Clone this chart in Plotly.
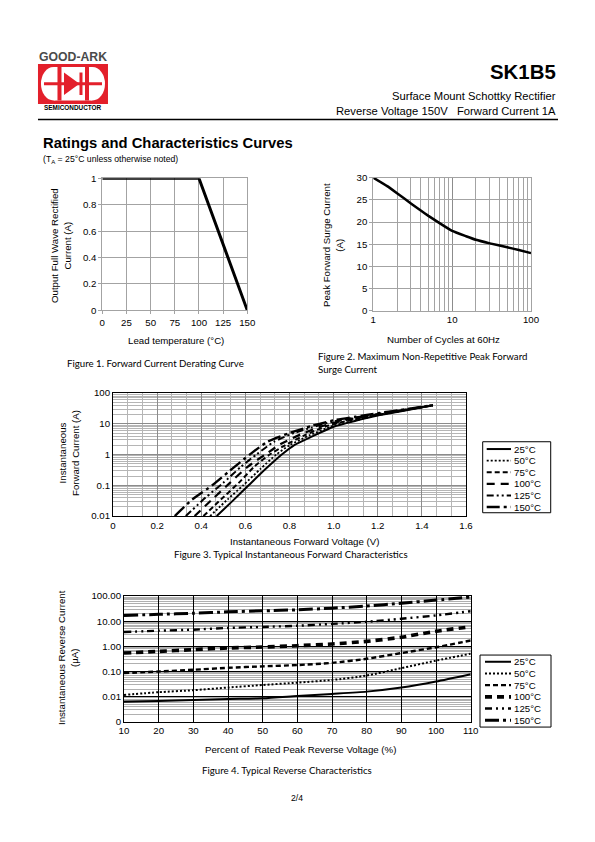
import plotly.graph_objects as go

W, H = 595, 842
BODY = 8  # default page margin of the browser
FW, FH = W - 2 * BODY, H - 2 * BODY
# measured mapping page-px -> photographed px (view = A + S * page)
AX, SX = 5.2, 0.9775
AY, SY = 6.1, 0.9866
FS = 1.02  # font compensation


def fx(x):
    return ((x - AX) / SX - BODY) / FW


def fy(y):
    return 1 - ((y - AY) / SY - BODY) / FH


# ---------------- data ----------------
fig1_temp = [0, 100, 150]
fig1_current = [1, 1, 0]

fig2_cycles = [1, 1.5, 2, 3, 4, 5, 7, 10, 15, 20, 30, 50, 70, 100]
fig2_surge = [30, 28.1, 26.5, 24.2, 22.6, 21.4, 19.7, 18.0, 16.8, 16.0, 15.2, 14.3, 13.7, 13.0]

fig3_v25 = [0.47, 0.54, 0.615, 0.69, 0.765, 0.82, 0.9, 1.0, 1.1, 1.2, 1.3, 1.45]
fig3_i25 = [0.01, 0.03, 0.1, 0.33, 1, 2, 3.8, 8, 12.5, 18.5, 25, 40]
fig3_v50 = [0.44, 0.52, 0.59, 0.67, 0.74, 0.8, 0.89, 1.0, 1.1, 1.2, 1.45]
fig3_i50 = [0.01, 0.035, 0.1, 0.35, 1, 2, 4.2, 8.7, 13, 19, 40]
fig3_v75 = [0.41, 0.49, 0.57, 0.64, 0.71, 0.78, 0.87, 0.97, 1.05, 1.2, 1.45]
fig3_i75 = [0.01, 0.035, 0.12, 0.4, 1, 2, 4.3, 8.5, 12, 19.5, 40]
fig3_v100 = [0.37, 0.45, 0.53, 0.61, 0.69, 0.76, 0.85, 0.95, 1.05, 1.2, 1.45]
fig3_i100 = [0.01, 0.035, 0.12, 0.4, 1, 2.2, 4.5, 8.5, 13, 20, 40]
fig3_v125 = [0.33, 0.42, 0.5, 0.58, 0.65, 0.73, 0.82, 0.9, 1.0, 1.2, 1.45]
fig3_i125 = [0.01, 0.04, 0.12, 0.4, 1, 2.6, 5, 7.5, 12, 21, 40]
fig3_v150 = [0.28, 0.36, 0.45, 0.53, 0.62, 0.7, 0.8, 0.9, 1.0, 1.1, 1.2, 1.3, 1.45]
fig3_i150 = [0.01, 0.035, 0.1, 0.3, 1, 2.6, 5, 8.5, 13, 17, 22, 28, 40]

fig4_pct = [10, 20, 30, 40, 50, 60, 70, 80, 90, 100, 110]
fig4_r25 = [0.0063, 0.0067, 0.0074, 0.0081, 0.0086, 0.0106, 0.0128, 0.0158, 0.023, 0.04, 0.078]
fig4_r50 = [0.0117, 0.015, 0.018, 0.023, 0.029, 0.036, 0.046, 0.069, 0.136, 0.27, 0.51]
fig4_r75 = [0.086, 0.1, 0.117, 0.14, 0.16, 0.18, 0.22, 0.32, 0.54, 0.92, 1.7]
fig4_r100 = [0.54, 0.63, 0.74, 0.86, 0.94, 1.06, 1.24, 1.58, 2.3, 4.0, 6.0]
fig4_r125 = [3.7, 4.2, 4.6, 5.4, 5.9, 6.6, 7.8, 9.5, 12.5, 17, 25]
fig4_r150 = [16.8, 18.8, 20.6, 23.6, 25.8, 28.4, 33, 40, 52, 69, 91]

legend_labels = ["25°C", "50°C", "75°C", "100°C", "125°C", "150°C"]

fig1_xticks = [0, 25, 50, 75, 100, 125, 150]
fig1_yticks = [0, 0.2, 0.4, 0.6, 0.8, 1]
fig1_yticktext = ["0", "0.2", "0.4", "0.6", "0.8", "1"]
fig2_yticks = [0, 5, 10, 15, 20, 25, 30]
fig3_xticks = [0, 0.2, 0.4, 0.6, 0.8, 1.0, 1.2, 1.4, 1.6]
fig3_xticktext = ["0", "0.2", "0.4", "0.6", "0.8", "1.0", "1.2", "1.4", "1.6"]
fig3_yticks = [0.01, 0.1, 1, 10, 100]
fig3_yticktext = ["0.01", "0.1", "1", "10", "100"]
fig4_yticks = [0.001, 0.01, 0.1, 1, 10, 100]
fig4_yticktext = ["0", "0.01", "0.10", "1.00", "10.00", "100.00"]

# ---------------- styles ----------------
FONT = "Liberation Sans, Arial, sans-serif"
CAP = "Lato, Open Sans, sans-serif"
GRID = "#a3a3a3"

styles3 = [
    dict(width=2, dash="solid"),
    dict(width=1.8, dash="2px,2px"),
    dict(width=2, dash="5px,3px"),
    dict(width=2.2, dash="8px,6px"),
    dict(width=2, dash="7px,3px,2px,3px,2px,3px"),
    dict(width=2.4, dash="13px,4px,3px,4px"),
]
styles4 = [
    dict(width=2, dash="solid"),
    dict(width=2, dash="2px,2px"),
    dict(width=2.4, dash="5px,3px"),
    dict(width=3.6, dash="7px,5px"),
    dict(width=2.4, dash="7px,4px,2px,4px,2px,4px"),
    dict(width=3, dash="14px,4px,3px,4px"),
]

fig = go.Figure()

fig.add_trace(go.Scatter(x=fig1_temp, y=fig1_current, mode="lines",
                         line=dict(color="black", width=3), xaxis="x", yaxis="y",
                         showlegend=False, hoverinfo="skip"))
fig.add_trace(go.Scatter(x=fig2_cycles, y=fig2_surge, mode="lines",
                         line=dict(color="black", width=2.5, shape="spline", smoothing=0.4),
                         xaxis="x2", yaxis="y2", showlegend=False, hoverinfo="skip"))
f3 = [(fig3_v25, fig3_i25), (fig3_v50, fig3_i50), (fig3_v75, fig3_i75),
      (fig3_v100, fig3_i100), (fig3_v125, fig3_i125), (fig3_v150, fig3_i150)]
for (vx, iy), st in zip(f3, styles3):
    fig.add_trace(go.Scatter(x=vx, y=iy, mode="lines",
                             line=dict(color="black", width=st["width"], dash=st["dash"],
                                       shape="spline", smoothing=0.6),
                             xaxis="x3", yaxis="y3", showlegend=False, hoverinfo="skip"))
f4 = [fig4_r25, fig4_r50, fig4_r75, fig4_r100, fig4_r125, fig4_r150]
for ry, st in zip(f4, styles4):
    fig.add_trace(go.Scatter(x=fig4_pct, y=ry, mode="lines",
                             line=dict(color="black", width=st["width"], dash=st["dash"],
                                       shape="spline", smoothing=0.6),
                             xaxis="x4", yaxis="y4", showlegend=False, hoverinfo="skip"))

tickfont = dict(family=FONT, size=9.5 * FS, color="black")

def minor_log(lo, hi):
    return [m * 10 ** e for e in range(lo, hi) for m in range(2, 10)]

layout = dict(
    width=FW, height=FH, margin=dict(l=0, r=0, t=0, b=0),
    paper_bgcolor="white", plot_bgcolor="white", showlegend=False,
    xaxis=dict(domain=[fx(102.3), fx(247.3)], range=[0, 150], tickvals=fig1_xticks,
               showgrid=True, gridcolor=GRID, gridwidth=1, zeroline=False,
               showline=True, linecolor=GRID, mirror=True, ticks="outside", ticklen=3,
               tickcolor=GRID, tickfont=tickfont, anchor="y"),
    yaxis=dict(domain=[fy(310.3), fy(178.3)], range=[0, 1], tickvals=fig1_yticks,
               ticktext=fig1_yticktext, showgrid=True, gridcolor=GRID, zeroline=False,
               showline=True, linecolor=GRID, mirror=True, ticks="outside", ticklen=3,
               tickcolor=GRID, tickfont=tickfont, anchor="x"),
    xaxis2=dict(domain=[fx(373.3), fx(531)], type="log", range=[0, 2],
                tickvals=[1, 10, 100], ticktext=["1", "10", "100"],
                showgrid=True, gridcolor="#8c8c8c", zeroline=False,
                minor=dict(tickmode="array", tickvals=minor_log(0, 2), showgrid=True,
                           gridcolor=GRID, gridwidth=1),
                showline=True, linecolor=GRID, mirror=True, ticks="", tickfont=tickfont,
                anchor="y2"),
    yaxis2=dict(domain=[fy(310.7), fy(177.7)], range=[0, 30], tickvals=fig2_yticks,
                showgrid=True, gridcolor=GRID, zeroline=False,
                showline=True, linecolor=GRID, mirror=True, ticks="outside", ticklen=3,
                tickcolor=GRID, tickfont=tickfont, anchor="x2"),
    xaxis3=dict(domain=[fx(113), fx(466)], range=[0, 1.6], tickvals=fig3_xticks,
                ticktext=fig3_xticktext, showgrid=True, gridcolor="#8c8c8c", zeroline=False,
                minor=dict(dtick=0.2 / 3, tick0=0, showgrid=True, gridcolor="#b5b5b5",
                           gridwidth=1),
                showline=True, linecolor="black", mirror=True, ticks="", tickfont=tickfont,
                anchor="y3"),
    yaxis3=dict(domain=[fy(516), fy(393)], type="log", range=[-2, 2], tickvals=fig3_yticks,
                ticktext=fig3_yticktext, showgrid=True, gridcolor="#8c8c8c", zeroline=False,
                minor=dict(tickmode="array", tickvals=minor_log(-2, 2), showgrid=True,
                           gridcolor="#b5b5b5", gridwidth=1),
                showline=True, linecolor="black", mirror=True, ticks="", tickfont=tickfont,
                anchor="x3"),
    xaxis4=dict(domain=[fx(124), fx(470.7)], range=[10, 110], dtick=10, tick0=10,
                showgrid=True, gridcolor="black", gridwidth=1.2, zeroline=False,
                showline=True, linecolor="black", mirror=True, ticks="", tickfont=tickfont,
                anchor="y4"),
    yaxis4=dict(domain=[fy(721.7), fy(596)], type="log", range=[-3, 2], tickvals=fig4_yticks,
                ticktext=fig4_yticktext, showgrid=True, gridcolor="black", gridwidth=1.2,
                zeroline=False,
                minor=dict(tickmode="array", tickvals=minor_log(-3, 2), showgrid=True,
                           gridcolor="#b0b0b0", gridwidth=1),
                showline=True, linecolor="black", mirror=True, ticks="", tickfont=tickfont,
                anchor="x4"),
)

annotations = []
shapes = []

def text(x, y, s, size=9.5, family=FONT, xanchor="center", yanchor="middle",
         angle=0, bold=False, color="black", align="center"):
    if bold:
        s = "<b>" + s + "</b>"
    annotations.append(dict(x=fx(x), y=fy(y), xref="paper", yref="paper", text=s,
                            showarrow=False, xanchor=xanchor, yanchor=yanchor,
                            textangle=angle, align=align,
                            font=dict(family=family, size=size * FS, color=color)))

def rect(x0, y0, x1, y1, fill=None, line_color=None, lw=1):
    shapes.append(dict(type="rect", xref="paper", yref="paper",
                       x0=fx(x0), x1=fx(x1), y0=fy(y1), y1=fy(y0),
                       fillcolor=fill if fill else "rgba(0,0,0,0)",
                       line=dict(color=line_color if line_color else "rgba(0,0,0,0)",
                                 width=lw if line_color else 0)))

def seg(x0, y0, x1, y1, color="black", width=1, dash="solid"):
    shapes.append(dict(type="line", xref="paper", yref="paper",
                       x0=fx(x0), x1=fx(x1), y0=fy(y0), y1=fy(y1),
                       line=dict(color=color, width=width, dash=dash)))

def path(points, fill):
    d = "M " + " L ".join(f"{fx(a):.5f},{fy(b):.5f}" for a, b in points) + " Z"
    shapes.append(dict(type="path", xref="paper", yref="paper", path=d,
                       fillcolor=fill, line=dict(width=0)))

# ---------------- header / logo ----------------
text(73, 57, "GOOD-ARK", size=12, bold=True, color="#4a4a4a")
rect(38, 64, 108, 104, fill="#e3202b")
shapes.append(dict(type="circle", xref="paper", yref="paper",
                   x0=fx(41), x1=fx(66), y0=fy(100.5), y1=fy(67), fillcolor="white",
                   line=dict(width=0)))
shapes.append(dict(type="circle", xref="paper", yref="paper",
                   x0=fx(80), x1=fx(105), y0=fy(100.5), y1=fy(67), fillcolor="white",
                   line=dict(width=0)))
rect(54, 67, 92, 100.5, fill="white")
rect(57.5, 67, 61.5, 100.5, fill="#e3202b")
rect(85, 67, 89, 100.5, fill="#e3202b")
rect(44, 82.3, 102, 85.2, fill="#e3202b")
path([(64, 72.5), (64, 95), (79.5, 83.7)], "#e3202b")
rect(79.5, 72.5, 82.5, 95, fill="#e3202b")
text(73, 107.5, "SEMICONDUCTOR", size=6.3, bold=True, color="black")

text(558, 72, "SK1B5", size=20, bold=True, xanchor="right")
text(558, 96, "Surface Mount Schottky Rectifier", size=11, xanchor="right")
text(558, 111, "Reverse Voltage 150V\u00a0\u00a0\u00a0Forward Current 1A", size=11,
     xanchor="right")
seg(38, 119.5, 558, 119.5, width=1.3)

text(41, 143, "Ratings and Characteristics Curves", size=14.5, bold=True, xanchor="left")
text(41, 159, "(T<sub>A</sub> = 25°C unless otherwise noted)", size=8.5, xanchor="left")

# ---------------- figure texts ----------------
text(61, 245, "Output Full Wave Rectified<br>Current (A)", size=9.5, angle=-90)
text(176, 340, "Lead temperature (°C)", size=9.5)
text(156, 363, "Figure 1. Forward Current Derating Curve", size=9.5, family=CAP)

text(333, 245, "Peak Forward Surge Current<br>(A)", size=9.5, angle=-90)
text(443, 339, "Number of Cycles at 60Hz", size=9.5)
text(316, 362.5, "Figure 2. Maximum Non-Repetitive Peak Forward<br>Surge Current", size=9.5,
     family=CAP, xanchor="left", align="left")

text(69, 453, "Instantaneous<br>Forward Current (A)", size=9.5, angle=-90)
text(305, 541, "Instantaneous Forward Voltage (V)", size=9.5)
text(291, 554, "Figure 3. Typical Instantaneous Forward Characteristics", size=9.5, family=CAP)

text(68, 657, "Instantaneous Reverse Current<br>(µA)", size=9.5, angle=-90)
text(301, 749, "Percent of\u00a0 Rated Peak Reverse Voltage (%)", size=9.5)
text(287, 770, "Figure 4. Typical Reverse Characteristics", size=9.5, family=CAP)

# ---------------- legends ----------------
def legend(x0, y0, x1, y1, rows, lx0, lx1, tx, styles):
    rect(x0, y0, x1, y1, fill="white", line_color="black", lw=1)
    for yy, lab, st in zip(rows, legend_labels, styles):
        seg(lx0, yy, lx1, yy, width=st["width"], dash=st["dash"])
        text(tx, yy, lab, size=9.5, xanchor="left")

legend(482.7, 441.7, 550.7, 512.7, [449, 460.6, 472.2, 483.8, 495.4, 507],
       486.7, 511, 511.5, styles3)
legend(480, 655, 551, 727, [661.7, 673.4, 685.1, 696.8, 708.5, 720.2],
       485, 511, 511.5, styles4)

text(297, 798, "2/4", size=8.5)

layout["annotations"] = annotations
layout["shapes"] = shapes
fig.update_layout(**layout)
fig.write_html("out.html", config={"displayModeBar": False})
